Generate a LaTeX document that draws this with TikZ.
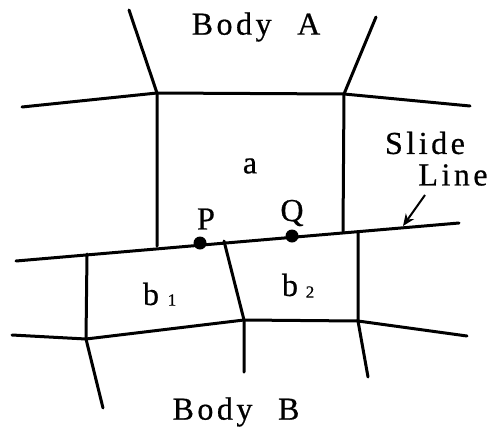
\documentclass[tikz,border=0pt]{standalone}
\usepackage{fontspec}
\setmainfont[LetterSpace=11,FakeBold=0.6]{Liberation Serif}
\usetikzlibrary{arrows.meta}
\tikzset{
  mesh/.style={line width=3pt,black,line cap=round,line join=round},
  lbl/.style={inner sep=0pt,font=\fontsize{32}{36}\selectfont,text=black},
  sm/.style={inner sep=0pt,font=\fontsize{17}{19}\selectfont,text=black},
  dotn/.style={circle,fill=black,inner sep=0pt,minimum size=13pt}
}
\begin{document}
\begin{tikzpicture}[x=1pt,y=-1pt]
\useasboundingbox (0,0) rectangle (497,431);
\coordinate (A1) at (157,93);
\coordinate (A2) at (344,94);
\coordinate (S1) at (157,246);
\coordinate (S2) at (343,232);
\coordinate (SL) at (16,261);
\coordinate (SR) at (459,223);
\coordinate (B1) at (87,254);
\coordinate (B2) at (224,241);
\coordinate (B3) at (358,232);
\coordinate (C1) at (86,339);
\coordinate (C2) at (244,320);
\coordinate (C3) at (358,321);
\node[dotn] (P) at (200,243) {};
\node[dotn] (Q) at (292,236) {};
\draw[mesh] (SL) -- (SR);
\draw[mesh] (129,10) -- (A1) -- (A2) -- (376,17);
\draw[mesh] (22,107) -- (A1) -- (S1);
\draw[mesh] (A2) -- (S2);
\draw[mesh] (A2) -- (470,106);
\draw[mesh] (B1) -- (C1) -- (C2) -- (C3) -- (B3);
\draw[mesh] (B2) -- (C2) -- (244,372);
\draw[mesh] (12,335) -- (C1) -- (103,408);
\draw[mesh] (C3) -- (368,377);
\draw[mesh] (C3) -- (467,336);
\node[lbl] (bodyA) at (256,27) {Body\hspace{0.8em}A};
\node[lbl] (bodyB) at (236,412) {Body\hspace{0.8em}B};
\node[lbl] (a) at (250,166) {a};
\node[lbl] (pl) at (206,219) {P};
\node[lbl] (ql) at (292,213) {Q};
\node[lbl] (sl1) at (425,143) {Slide};
\node[lbl] (sl2) at (453,175) {Line};
\node[lbl] (b1) at (151,294) {b};
\node[sm] (b1s) at (172,300) {1};
\node[lbl] (b2) at (290,285) {b};
\node[sm] (b2s) at (310,292) {2};
\coordinate (tip) at (403,226);
\draw[line width=2pt,-{Stealth[length=12pt,width=10pt]}] (425,195) -- (tip);
\end{tikzpicture}
\end{document}
